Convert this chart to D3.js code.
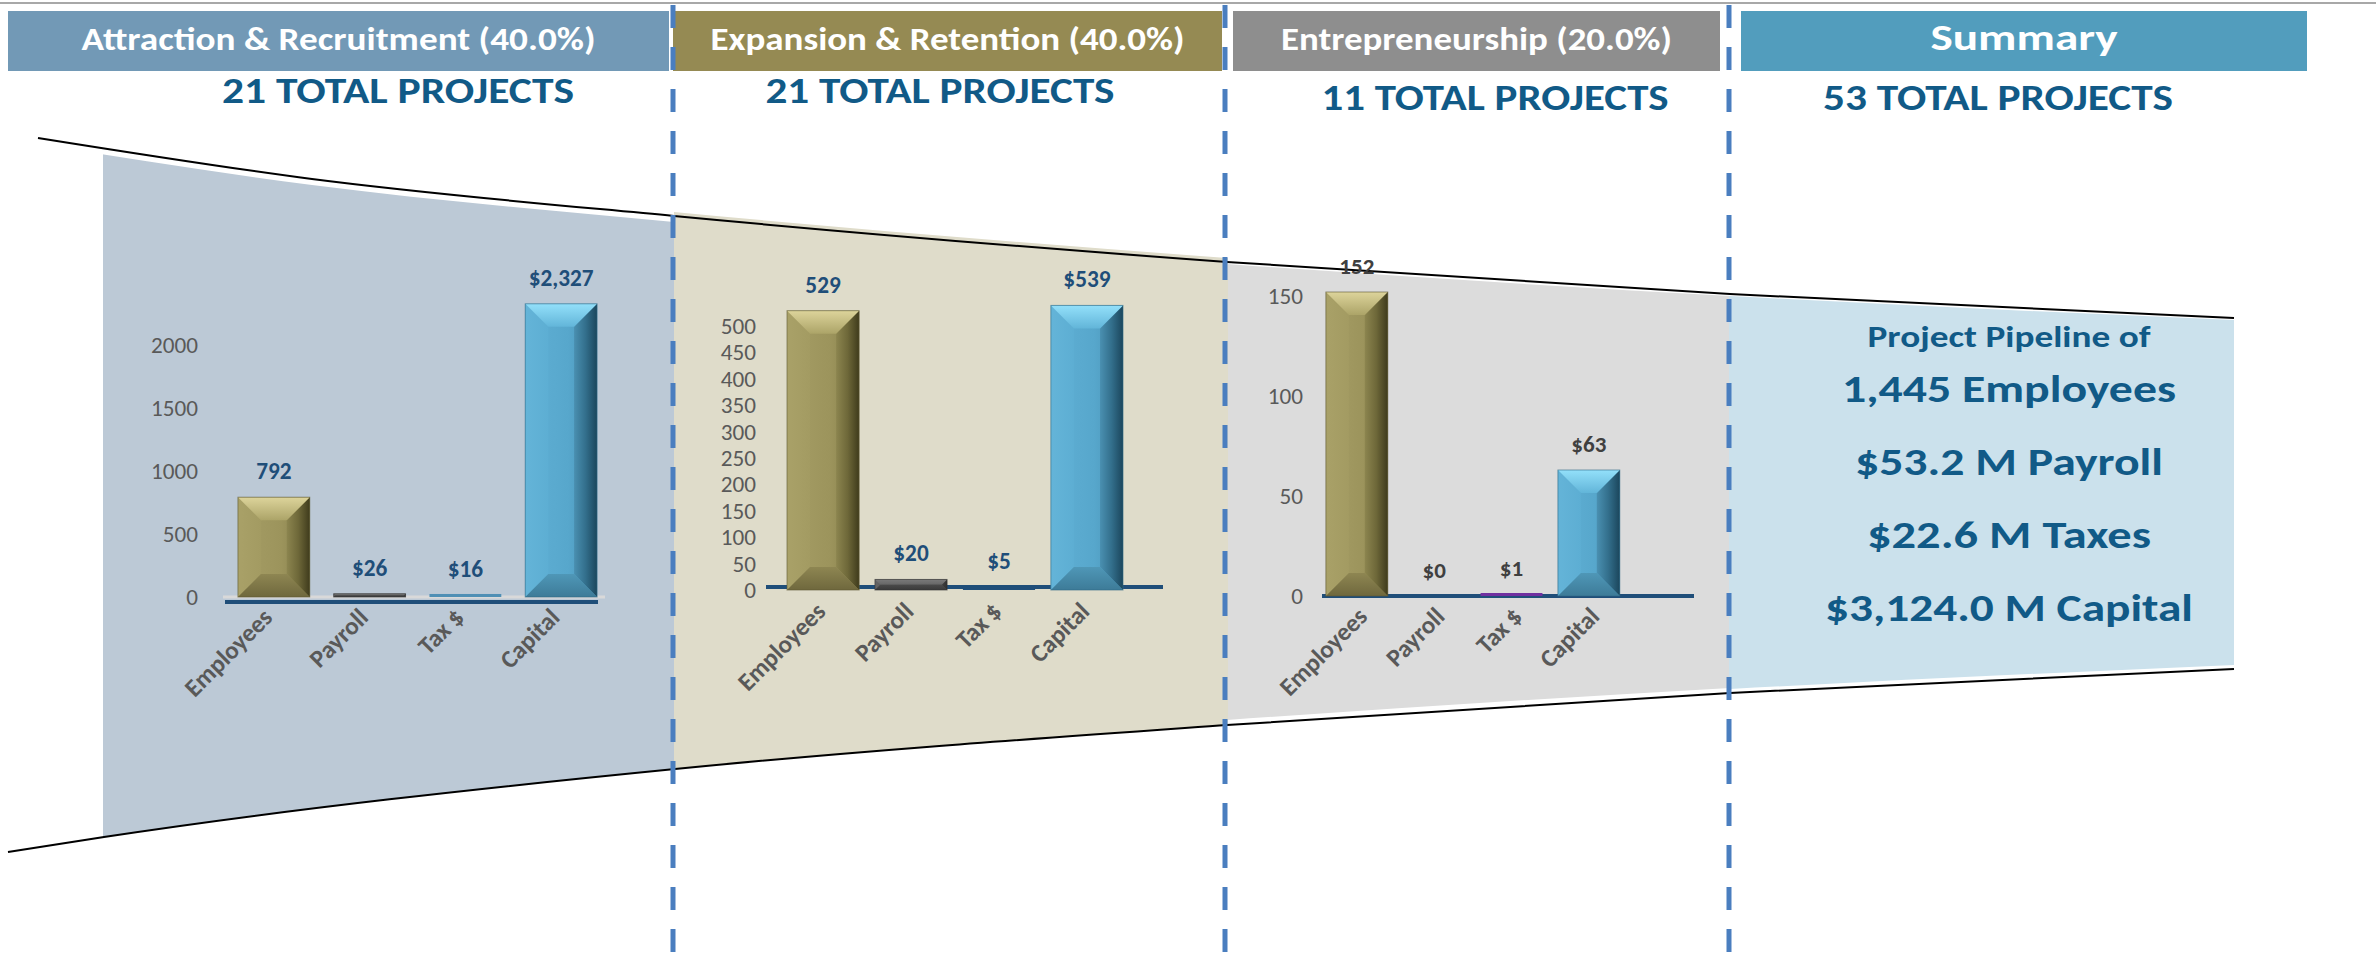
<!DOCTYPE html>
<html>
<head>
<meta charset="utf-8">
<script src="https://cdn.jsdelivr.net/npm/d3@7"></script>
<style>
  html, body { margin: 0; padding: 0; background: #fff; }
  svg { display: block; font-family: Carlito, Lato, sans-serif; }
</style>
</head>
<body>
<svg id="chart" width="2376" height="968"></svg>
<script>
// Data
var categories = ['Employees', 'Payroll', 'Tax $', 'Capital'];
var attractionValues = [792, 26, 16, 2327];
var expansionValues = [529, 20, 5, 539];
var entrepreneurshipValues = [152, 0, 1, 63];
var attractionTicks = [0, 500, 1000, 1500, 2000];
var expansionTicks = [0, 50, 100, 150, 200, 250, 300, 350, 400, 450, 500];
var entrepreneurshipTicks = [0, 50, 100, 150];
var sectionNames = ['Attraction & Recruitment (40.0%)', 'Expansion & Retention (40.0%)', 'Entrepreneurship (20.0%)', 'Summary'];
var projectCounts = [21, 21, 11, 53];
var summaryLines = ['Project Pipeline of', '1,445 Employees', '$53.2 M Payroll', '$22.6 M Taxes', '$3,124.0 M Capital'];

// Layout
var svg = d3.select('#chart');
var defs = svg.append('defs');
var navy = '#1f4e79';
var titleBlue = '#115a87';
var fontStack = 'Carlito, Lato, sans-serif';

// pick a font size so a sample string gets the width seen in the picture
function fitSize (sample, weight, target) {
  var t = svg.append('text').attr('font-size', 20).attr('font-weight', weight)
    .attr('font-family', fontStack).text(sample);
  var len = t.node().getComputedTextLength();
  t.remove();
  return len > 0 ? 20 * target / len : 20;
}
var valueSize = fitSize('$2,327', 'bold', 65);
var smallValueSize = fitSize('$63', 'bold', 35);
var tickSize = fitSize('2000', 'normal', 47);
var catSize = fitSize('Employees', 'bold', 112);

var headers = [
  {x0: 8, x1: 669, color: '#7299b6', size: 32, len: 514, totalLen: 352, totalY: 103},
  {x0: 673, x1: 1222, color: '#958a53', size: 32, len: 474, totalLen: 349, totalY: 103},
  {x0: 1233, x1: 1720, color: '#8e8e8e', size: 32, len: 391, totalLen: 347, totalY: 110},
  {x0: 1741, x1: 2307, color: '#529dbd', size: 36, len: 187, totalLen: 350, totalY: 110}
];

// funnel outline (decoration)
var topEdge = [[38, 138], [312, 179], [674, 216], [1227, 262], [1730, 294], [2234, 318]];
var bottomEdge = [[8, 852], [104, 837], [675, 769], [1227, 725], [1730, 693], [2234, 669]];

var regions = [
  {x0: 103, x1: 674, fill: '#bcc9d6', dt: 6, db: 0},
  {x0: 674, x1: 1228, fill: '#dfdcca', dt: -4, db: 0},
  {x0: 1228, x1: 1729, fill: '#dcdcdc', dt: 2, db: -5},
  {x0: 1729, x1: 2234, fill: '#cbe1ec', dt: 2, db: -4}
];

var charts = [
  {values: attractionValues, ticks: attractionTicks, domain: [0, 2000], yRange: [597, 345],
   xRange: [214, 621], padInner: 0.25, padOuter: 0.25, align: 0.5, tickX: 198,
   baseY: 602, baseX: [225, 598], guideX: [223, 605], labelDx: 0, labelDy: 22,
   valueColor: navy, valueSize: valueSize, taxColor: '#4f8fb5'},
  {values: expansionValues, ticks: expansionTicks, domain: [0, 500], yRange: [590, 326],
   xRange: [765, 1145], padInner: 0.18, padOuter: 0.25, align: 0.5, tickX: 756,
   baseY: 587, baseX: [766, 1163], labelDx: 4, labelDy: 23,
   valueColor: navy, valueSize: valueSize, taxColor: navy},
  {values: entrepreneurshipValues, ticks: entrepreneurshipTicks, domain: [0, 150], yRange: [596, 296],
   xRange: [1322, 1694], padInner: 0.2, padOuter: 0.505, align: 0.05, tickX: 1303,
   baseY: 596, baseX: [1322, 1694], labelDx: 12, labelDy: 22,
   valueColor: '#404040', valueSize: smallValueSize, taxColor: '#7030a0'}
];

var dashXs = [673, 1225, 1729];

// Gradients for the bevelled bars
function grad (id, stops, vertical) {
  var g = defs.append('linearGradient').attr('id', id)
    .attr('x1', 0).attr('y1', 0)
    .attr('x2', vertical ? 0 : 1).attr('y2', vertical ? 1 : 0);
  stops.forEach(function (s) {
    g.append('stop').attr('offset', s[0]).attr('stop-color', s[1]);
  });
}

var palettes = {
  olive: {face: [[0, '#a69e66'], [0.6, '#9c945c'], [1, '#847d4a']],
          top: [[0, '#ddd49b'], [1, '#aca468']], bottom: [[0, '#8e8652'], [1, '#6f683d']],
          left: [[0, '#a9a168'], [1, '#a39b62']], right: [[0, '#8c854f'], [0.5, '#6e6839'], [1, '#3f3b1c']],
          stroke: '#5d5833'},
  cyan: {face: [[0, '#60b0d5'], [0.6, '#57a7cc'], [1, '#4990b2']],
         top: [[0, '#93e0fa'], [1, '#62b5d9']], bottom: [[0, '#4f97b7'], [1, '#3d7b98']],
         left: [[0, '#64b4d8'], [1, '#5daed3']], right: [[0, '#4a90b1'], [0.5, '#336f8c'], [1, '#1b465c']],
         stroke: '#2f6985'},
  gray: {face: [[0, '#5e5e5e'], [1, '#474747']], top: [[0, '#7a7a7a'], [1, '#666']],
         bottom: [[0, '#4a4a4a'], [1, '#3a3a3a']], left: [[0, '#666'], [1, '#5e5e5e']],
         right: [[0, '#3e3e3e'], [1, '#303030']], stroke: '#333'}
};

Object.keys(palettes).forEach(function (k) {
  var p = palettes[k];
  grad('face-' + k, p.face, false);
  grad('top-' + k, p.top, true);
  grad('bottom-' + k, p.bottom, true);
  grad('left-' + k, p.left, false);
  grad('right-' + k, p.right, false);
});

function bevelBar (g, x, y, w, h, pal) {
  if (h <= 0) return;
  var b = Math.min(23, w / 2, h / 2);
  var bar = g.append('g');
  bar.append('rect').attr('x', x).attr('y', y).attr('width', w).attr('height', h)
    .attr('fill', 'url(#face-' + pal + ')');
  var polys = [
    ['left', [[x, y], [x + b, y + b], [x + b, y + h - b], [x, y + h]]],
    ['right', [[x + w, y], [x + w - b, y + b], [x + w - b, y + h - b], [x + w, y + h]]],
    ['top', [[x, y], [x + w, y], [x + w - b, y + b], [x + b, y + b]]],
    ['bottom', [[x, y + h], [x + w, y + h], [x + w - b, y + h - b], [x + b, y + h - b]]]
  ];
  polys.forEach(function (p) {
    bar.append('polygon')
      .attr('points', p[1].map(function (q) { return q.join(','); }).join(' '))
      .attr('fill', 'url(#' + p[0] + '-' + pal + ')');
  });
  bar.append('rect').attr('x', x).attr('y', y).attr('width', w).attr('height', h)
    .attr('fill', 'none').attr('stroke', palettes[pal].stroke).attr('stroke-opacity', 0.6).attr('stroke-width', 1);
}

// Top rule
svg.append('line').attr('x1', 0).attr('x2', 2376).attr('y1', 3).attr('y2', 3)
  .attr('stroke', '#a8a8a8').attr('stroke-width', 2);

// Funnel regions
var lineGen = d3.line().curve(d3.curveMonotoneX);
function shift (pts, d) { return pts.map(function (p) { return [p[0], p[1] + d]; }); }

regions.forEach(function (r, i) {
  defs.append('clipPath').attr('id', 'below-top-' + i).append('path')
    .attr('d', lineGen(shift(topEdge, r.dt)) + 'L2234,968L38,968Z');
  defs.append('clipPath').attr('id', 'above-bot-' + i).append('path')
    .attr('d', lineGen(shift(bottomEdge, r.db)) + 'L2234,0L8,0Z');
  svg.append('g').attr('clip-path', 'url(#below-top-' + i + ')')
    .append('g').attr('clip-path', 'url(#above-bot-' + i + ')')
    .append('rect').attr('x', r.x0).attr('y', 0).attr('width', r.x1 - r.x0).attr('height', 968)
    .attr('fill', r.fill);
});

svg.append('path').attr('d', lineGen(topEdge)).attr('fill', 'none').attr('stroke', '#000').attr('stroke-width', 2);
svg.append('path').attr('d', lineGen(bottomEdge)).attr('fill', 'none').attr('stroke', '#000').attr('stroke-width', 2);

// Header boxes
headers.forEach(function (h, i) {
  svg.append('rect').attr('x', h.x0).attr('y', 11).attr('width', h.x1 - h.x0).attr('height', 60)
    .attr('fill', h.color);
  svg.append('text').attr('x', (h.x0 + h.x1) / 2).attr('y', 50)
    .attr('text-anchor', 'middle').attr('fill', '#fff').attr('font-weight', 'bold')
    .attr('font-size', h.size).attr('textLength', h.len).attr('lengthAdjust', 'spacingAndGlyphs')
    .text(sectionNames[i]);
});

var totalCenters = [398, 940, 1495, 1998];
projectCounts.forEach(function (n, i) {
  svg.append('text').attr('x', totalCenters[i]).attr('y', headers[i].totalY)
    .attr('text-anchor', 'middle').attr('fill', titleBlue).attr('font-weight', 'bold')
    .attr('font-size', 36).attr('textLength', headers[i].totalLen).attr('lengthAdjust', 'spacingAndGlyphs')
    .text(n + ' TOTAL PROJECTS');
});

// Bar charts
charts.forEach(function (c) {
  var g = svg.append('g');
  var x = d3.scaleBand().domain(categories).range(c.xRange)
    .paddingInner(c.padInner).paddingOuter(c.padOuter).align(c.align);
  var y = d3.scaleLinear().domain(c.domain).range(c.yRange);

  // y axis labels
  var yAxis = g.append('g').attr('transform', 'translate(' + c.tickX + ',0)')
    .call(d3.axisLeft(y).tickValues(c.ticks).tickFormat(d3.format('d')).tickSize(0).tickPadding(0));
  yAxis.select('.domain').remove();
  yAxis.selectAll('text').attr('fill', '#595959').attr('font-size', tickSize)
    .attr('font-family', fontStack);

  // baseline
  if (c.guideX) {
    g.append('line').attr('x1', c.guideX[0]).attr('x2', c.guideX[1])
      .attr('y1', y(0)).attr('y2', y(0))
      .attr('stroke', '#d9d9d9').attr('stroke-width', 3);
  }
  g.append('line').attr('x1', c.baseX[0]).attr('x2', c.baseX[1])
    .attr('y1', c.baseY).attr('y2', c.baseY)
    .attr('stroke', navy).attr('stroke-width', 4);

  c.values.forEach(function (v, i) {
    var bx = x(categories[i]);
    var bw = x.bandwidth();
    var top = y(v);
    var h = y(0) - top;
    if (i === 0) bevelBar(g, bx, top, bw, h, 'olive');
    else if (i === 3) bevelBar(g, bx, top, bw, h, 'cyan');
    else if (i === 1) bevelBar(g, bx, top, bw, h, 'gray');
    else if (h > 0) {
      g.append('rect').attr('x', bx).attr('y', top - 1).attr('width', bw).attr('height', h + 1)
        .attr('fill', c.taxColor);
    }
    g.append('text').attr('x', bx + bw / 2).attr('y', top - 18)
      .attr('text-anchor', 'middle').attr('font-weight', 'bold').attr('font-size', c.valueSize)
      .attr('fill', c.valueColor)
      .text(i === 0 ? d3.format(',')(v) : '$' + d3.format(',')(v));
  });

  // category labels
  var xAxis = g.append('g').attr('transform', 'translate(0,' + y(0) + ')')
    .call(d3.axisBottom(x).tickSize(0));
  xAxis.select('.domain').remove();
  xAxis.selectAll('text')
    .attr('x', 0).attr('y', 0).attr('dy', 0)
    .attr('transform', 'translate(' + c.labelDx + ',' + c.labelDy + ') rotate(-45)')
    .style('text-anchor', 'end')
    .attr('fill', '#595959').attr('font-size', catSize).attr('font-weight', 'bold')
    .attr('font-family', fontStack);
});

// Summary text
var summaryY = [347, 402, 475, 548, 621];
var summaryLen = [283, 334, 308, 284, 368];
var summarySize = [30, 39, 39, 39, 39];
summaryLines.forEach(function (t, i) {
  svg.append('text').attr('x', 2009).attr('y', summaryY[i])
    .attr('text-anchor', 'middle').attr('fill', titleBlue).attr('font-weight', 'bold')
    .attr('font-size', summarySize[i]).attr('textLength', summaryLen[i]).attr('lengthAdjust', 'spacingAndGlyphs')
    .text(t);
});

// Dashed dividers with soft shadow
var blur = defs.append('filter').attr('id', 'blur').attr('x', '-50%').attr('width', '200%');
blur.append('feGaussianBlur').attr('stdDeviation', 2.5);

dashXs.forEach(function (dx) {
  svg.append('line').attr('x1', dx - 7).attr('x2', dx - 7).attr('y1', 17).attr('y2', 980)
    .attr('stroke', '#6f6f6f').attr('stroke-opacity', 0.8).attr('stroke-width', 6)
    .attr('stroke-dasharray', '23,19').attr('filter', 'url(#blur)');
  svg.append('line').attr('x1', dx).attr('x2', dx).attr('y1', 5).attr('y2', 968)
    .attr('stroke', '#4a7ebf').attr('stroke-width', 5)
    .attr('stroke-dasharray', '23,19');
});
</script>
</body>
</html>
